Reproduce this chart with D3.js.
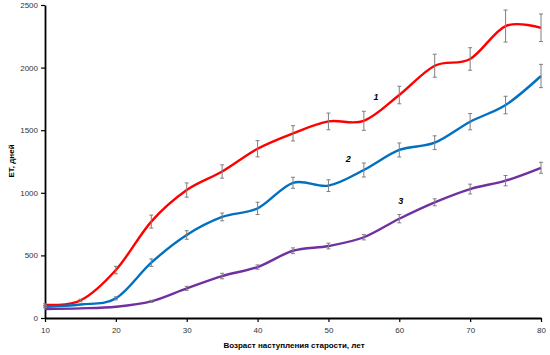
<!DOCTYPE html>
<html>
<head>
<meta charset="utf-8">
<script src="https://cdn.jsdelivr.net/npm/d3@7"></script>
<style>
  html, body { margin: 0; padding: 0; background: #fff; }
  svg { display: block; }
  text { font-family: "Liberation Sans", Arial, sans-serif; }
</style>
</head>
<body>
<svg id="chart" width="550" height="355"></svg>
<script>
const years = [10, 15, 20, 25, 30, 35, 40, 45, 50, 55, 60, 65, 70, 75, 80];
const series1 = [105, 140, 383, 770, 1022, 1170, 1352, 1475, 1570, 1575, 1781, 2015, 2069, 2332, 2318];
const err1    = [8, 10, 30, 52, 57, 53, 65, 61, 67, 76, 70, 92, 90, 128, 110];
const series2 = [90, 108, 157, 442, 663, 807, 876, 1080, 1057, 1182, 1342, 1400, 1568, 1701, 1933];
const err2    = [8, 0, 12, 30, 34, 31, 49, 44, 47, 56, 56, 55, 65, 70, 93];
const series3 = [72, 77, 90, 133, 237, 335, 407, 537, 575, 645, 793, 924, 1030, 1097, 1200];
const err3    = [0, 0, 0, 8, 16, 22, 17, 23, 23, 21, 33, 28, 39, 41, 44];
const seriesNames = ["1", "2", "3"];
const xTicks = [10, 20, 30, 40, 50, 60, 70, 80];
const yTicks = [0, 500, 1000, 1500, 2000, 2500];
const xTitle = "Возраст наступления старости, лет";
const yTitle = "ЕТ, дней";

const svg = d3.select("#chart");
const x = d3.scaleLinear().domain([10, 80]).range([45, 541]);
const y = d3.scaleLinear().domain([0, 2500]).range([318, 5]);

const series = [
  { name: seriesNames[0], values: series1, err: err1, color: "#ff0000", lx: 56.7, ly: 1765 },
  { name: seriesNames[1], values: series2, err: err2, color: "#0070c0", lx: 52.8, ly: 1270 },
  { name: seriesNames[2], values: series3, err: err3, color: "#7030a0", lx: 60.2, ly: 934 }
];

// axes
const fmt = d3.format("d");
const xAxis = d3.axisBottom(x).tickValues(xTicks).tickFormat(fmt).tickSize(4).tickSizeOuter(0).tickPadding(5);
const yAxis = d3.axisLeft(y).tickValues(yTicks).tickFormat(fmt).tickSize(4).tickSizeOuter(0).tickPadding(3);

const gx = svg.append("g").attr("transform", `translate(0,${y(0)})`).call(xAxis);
const gy = svg.append("g").attr("transform", `translate(${x(10)},0)`).call(yAxis);
[gx, gy].forEach(g => {
  g.select(".domain").attr("stroke", "#000").attr("stroke-width", 1.8);
  g.selectAll(".tick line").attr("stroke", "#000").attr("stroke-width", 1.2);
  g.selectAll(".tick text").attr("fill", "#333").style("font-size", "8px")
    .style("font-family", "'Liberation Sans', Arial, sans-serif");
});

// lines
const line = d3.line()
  .x((d, i) => x(years[i]))
  .y(d => y(d))
  .curve(d3.curveCardinal.tension(0));

series.forEach(s => {
  svg.append("path")
    .datum(s.values)
    .attr("fill", "none")
    .attr("stroke", s.color)
    .attr("stroke-width", 2.4)
    .attr("stroke-linejoin", "round")
    .attr("d", line);
});

// error bars
series.forEach(s => {
  const g = svg.append("g").attr("stroke", "#7f7f7f").attr("stroke-width", 1);
  s.values.forEach((v, i) => {
    const e = s.err[i];
    if (!e) return;
    const cx = x(years[i]);
    g.append("line").attr("x1", cx).attr("x2", cx).attr("y1", y(v - e)).attr("y2", y(v + e));
    g.append("line").attr("x1", cx - 2).attr("x2", cx + 2).attr("y1", y(v - e)).attr("y2", y(v - e));
    g.append("line").attr("x1", cx - 2).attr("x2", cx + 2).attr("y1", y(v + e)).attr("y2", y(v + e));
  });
});

// series labels
series.forEach(s => {
  svg.append("text")
    .attr("x", x(s.lx)).attr("y", y(s.ly))
    .attr("text-anchor", "middle")
    .attr("dominant-baseline", "central")
    .style("font-size", "9px").style("font-weight", "bold").style("font-style", "italic")
    .attr("fill", "#000")
    .text(s.name);
});

// titles
svg.append("text")
  .attr("x", 294).attr("y", 348)
  .attr("text-anchor", "middle")
  .style("font-size", "8px").style("font-weight", "bold")
  .attr("fill", "#000")
  .text(xTitle);

svg.append("text")
  .attr("transform", "translate(14,161) rotate(-90)")
  .attr("text-anchor", "middle")
  .style("font-size", "8px").style("font-weight", "bold")
  .attr("fill", "#000")
  .text(yTitle);
</script>
</body>
</html>
